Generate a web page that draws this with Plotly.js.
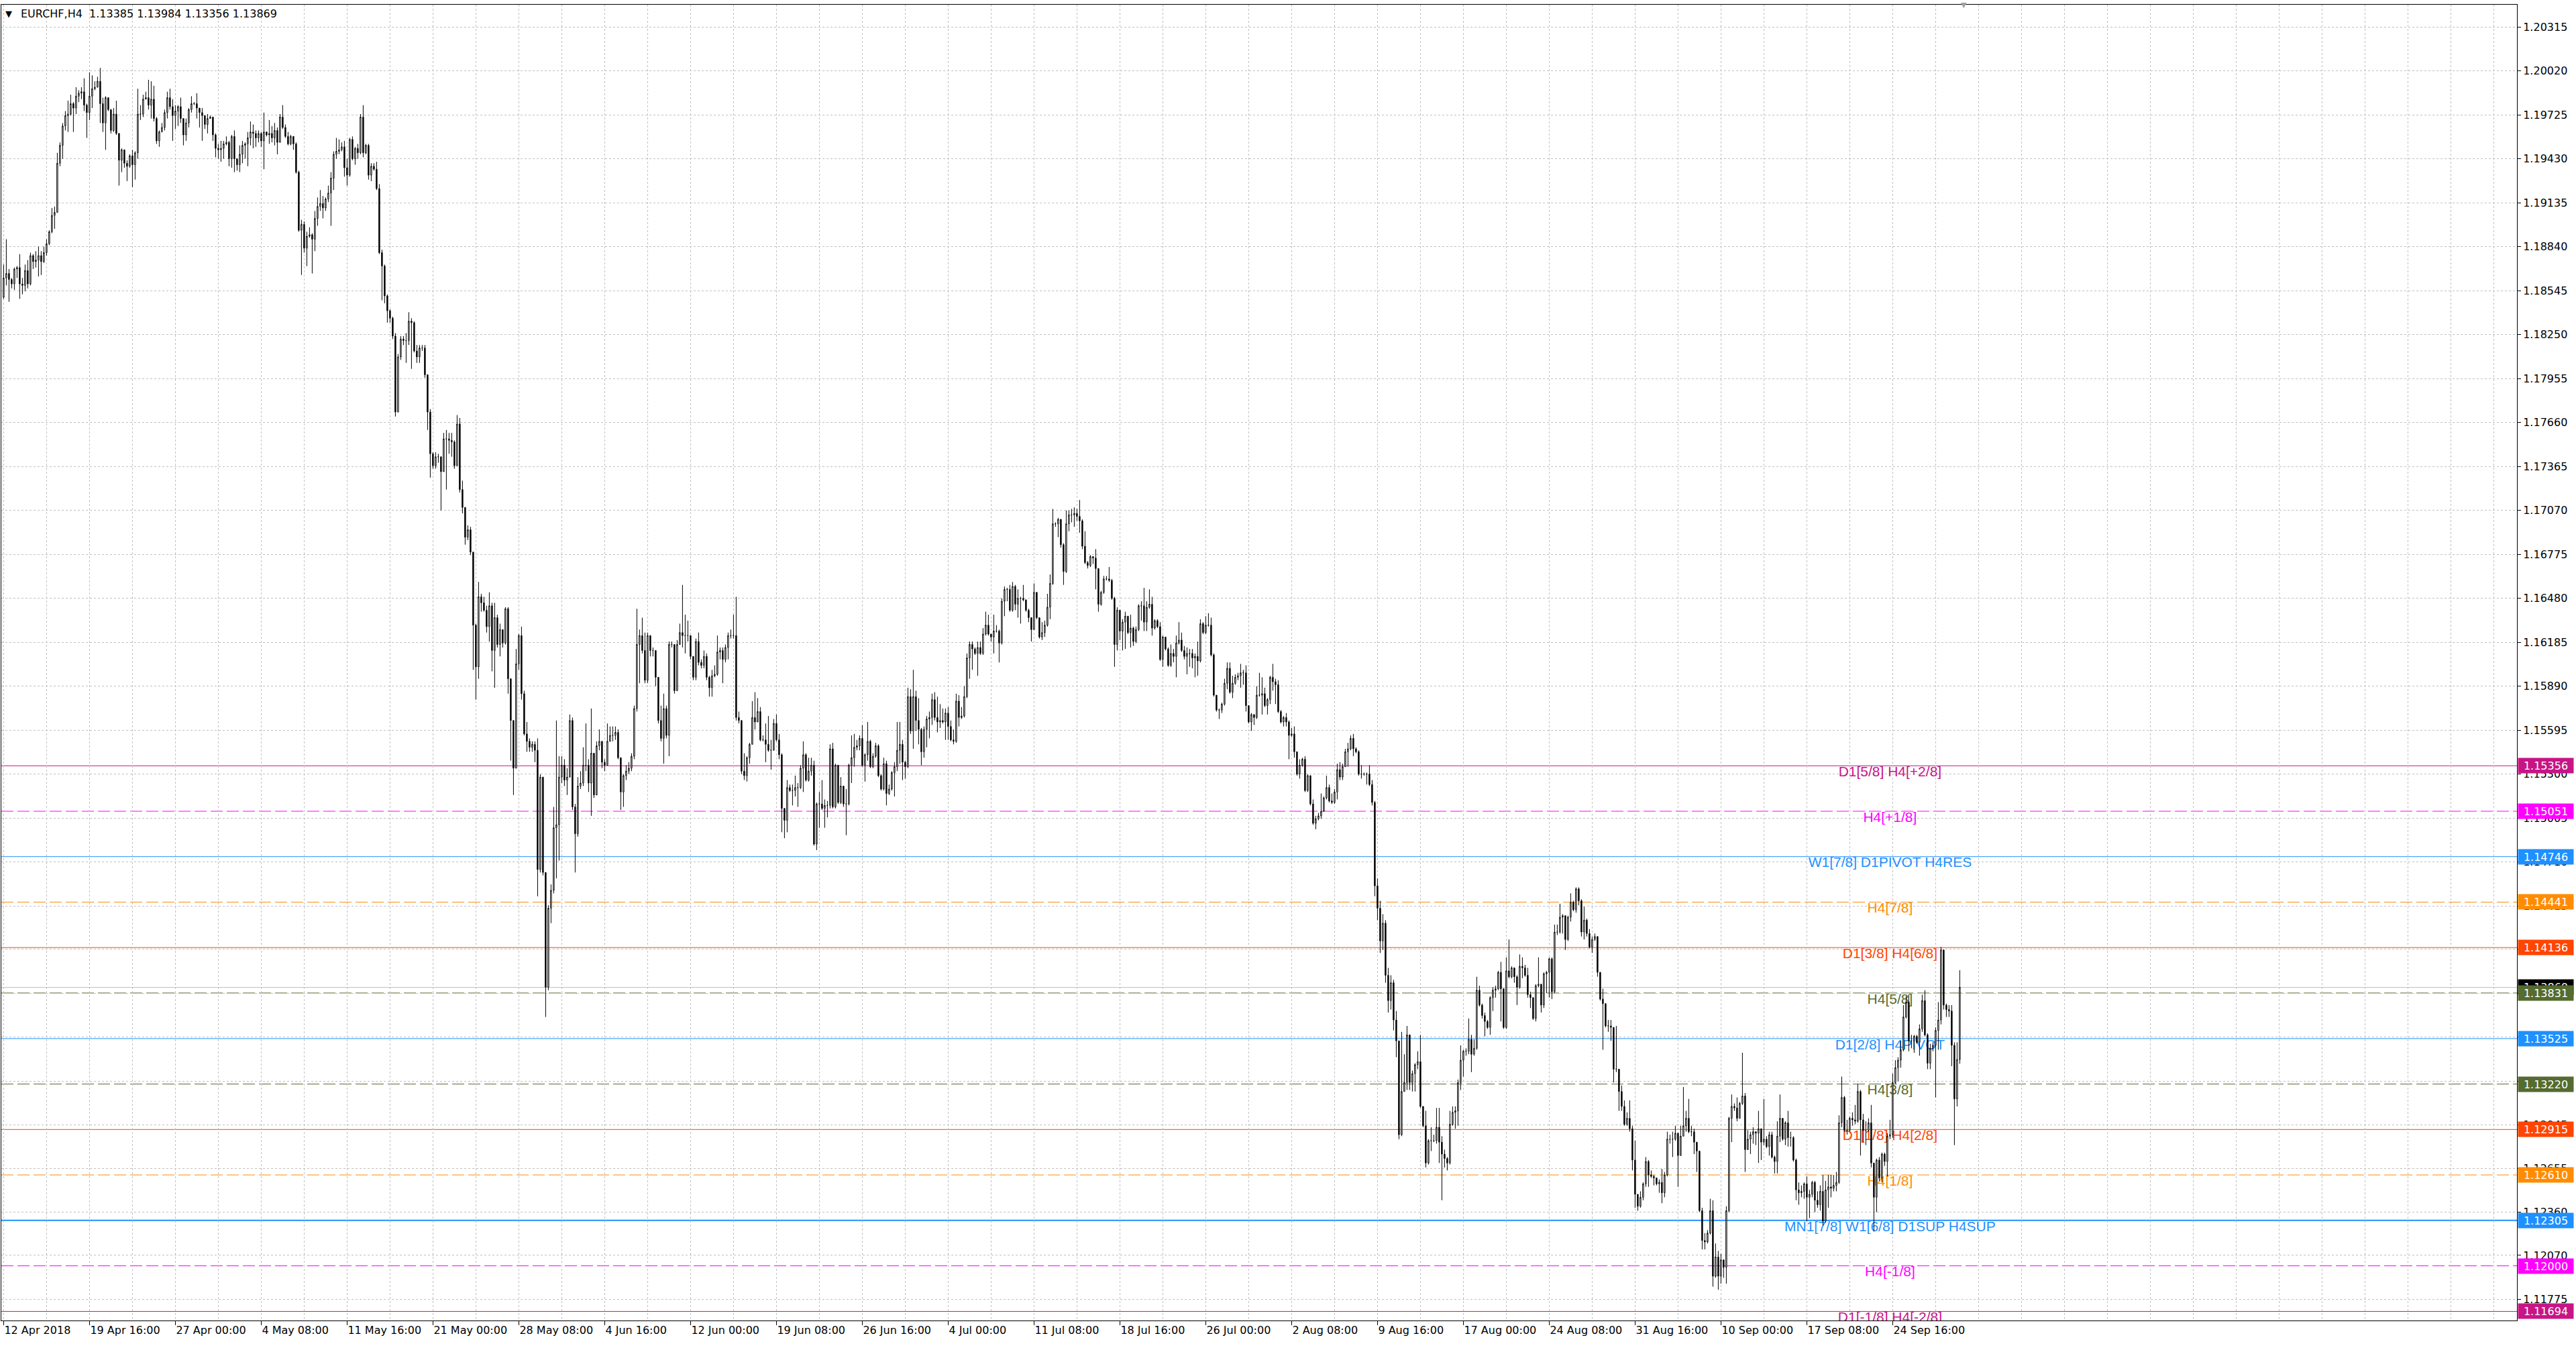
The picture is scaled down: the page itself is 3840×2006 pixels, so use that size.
<!DOCTYPE html>
<html>
<head>
<meta charset="utf-8">
<script src="https://cdn.plot.ly/plotly-3.0.1.min.js"></script>
<style>
html,body{margin:0;padding:0;background:#ffffff;}
#chart{width:3840px;height:2006px;}
</style>
</head>
<body>
<div id="chart"></div>
<script>
// ---------------- DATA (EURCHF, H4) ----------------
const symbol = "EURCHF,H4";
const firstOpen = 1.1850;

const closes = [
1.1863,1.1866,1.1862,1.1859,1.1869,1.1870,1.1859,1.1858,1.1868,1.1859,
1.1878,1.1874,1.1875,1.1878,1.1874,1.1880,1.1886,1.1894,1.1905,1.1907,
1.1940,1.1952,1.1965,1.1972,1.1973,1.1980,1.1977,1.1985,1.1987,1.1988,
1.1979,1.1974,1.1985,1.1990,1.1991,1.1995,1.1980,1.1967,1.1984,1.1976,
1.1962,1.1973,1.1960,1.1942,1.1949,1.1940,1.1938,1.1945,1.1939,1.1947,
1.1973,1.1973,1.1983,1.1984,1.1979,1.1983,1.1970,1.1955,1.1961,1.1964,
1.1974,1.1984,1.1978,1.1972,1.1975,1.1978,1.1970,1.1959,1.1967,1.1976,
1.1980,1.1980,1.1977,1.1974,1.1972,1.1966,1.1970,1.1971,1.1959,1.1950,
1.1949,1.1950,1.1953,1.1954,1.1943,1.1958,1.1943,1.1939,1.1946,1.1952,
1.1953,1.1957,1.1961,1.1960,1.1957,1.1960,1.1955,1.1961,1.1959,1.1960,
1.1957,1.1962,1.1954,1.1971,1.1964,1.1958,1.1953,1.1958,1.1953,1.1934,
1.1895,1.1899,1.1883,1.1891,1.1892,1.1889,1.1903,1.1911,1.1913,1.1910,
1.1916,1.1920,1.1930,1.1946,1.1948,1.1949,1.1951,1.1937,1.1932,1.1956,
1.1943,1.1950,1.1947,1.1971,1.1947,1.1952,1.1932,1.1938,1.1936,1.1923,
1.1880,1.1871,1.1851,1.1841,1.1836,1.1824,1.1773,1.1810,1.1822,1.1821,
1.1821,1.1834,1.1833,1.1814,1.1810,1.1816,1.1816,1.1798,1.1773,1.1745,
1.1737,1.1743,1.1743,1.1733,1.1755,1.1755,1.1754,1.1753,1.1737,1.1765,
1.1721,1.1709,1.1689,1.1694,1.1679,1.1630,1.1602,1.1649,1.1645,1.1640,
1.1629,1.1643,1.1613,1.1635,1.1617,1.1627,1.1618,1.1641,1.1594,1.1566,
1.1534,1.1604,1.1623,1.1584,1.1557,1.1552,1.1548,1.1550,1.1546,1.1466,
1.1528,1.1464,1.1387,1.1440,1.1452,1.1494,1.1496,1.1528,1.1536,1.1526,
1.1528,1.1566,1.1508,1.1490,1.1522,1.1524,1.1536,1.1536,1.1524,1.1544,
1.1516,1.1549,1.1552,1.1538,1.1536,1.1552,1.1556,1.1556,1.1558,1.1541,
1.1518,1.1529,1.1532,1.1534,1.1542,1.1574,1.1617,1.1623,1.1613,1.1593,
1.1623,1.1613,1.1613,1.1595,1.1566,1.1554,1.1574,1.1556,1.1617,1.1617,
1.1586,1.1617,1.1625,1.1623,1.1623,1.1623,1.1609,1.1595,1.1619,1.1605,
1.1603,1.1609,1.1595,1.1588,1.1596,1.1597,1.1612,1.1613,1.1607,1.1615,
1.1623,1.1623,1.1623,1.1568,1.1566,1.1532,1.1529,1.1541,1.1550,1.1568,
1.1565,1.1572,1.1553,1.1553,1.1550,1.1546,1.1546,1.1564,1.1553,1.1543,
1.1507,1.1499,1.1521,1.1519,1.1519,1.1521,1.1521,1.1534,1.1543,1.1526,
1.1532,1.1536,1.1483,1.1510,1.1510,1.1507,1.1509,1.1509,1.1547,1.1508,
1.1536,1.1511,1.1522,1.1510,1.1510,1.1536,1.1541,1.1548,1.1549,1.1554,
1.1536,1.1543,1.1552,1.1535,1.1542,1.1549,1.1529,1.1520,1.1537,1.1517,
1.1520,1.1531,1.1535,1.1546,1.1550,1.1538,1.1535,1.1582,1.1559,1.1582,
1.1566,1.1560,1.1545,1.1560,1.1567,1.1568,1.1580,1.1568,1.1565,1.1566,
1.1565,1.1571,1.1562,1.1553,1.1552,1.1579,1.1568,1.1569,1.1582,1.1608,
1.1617,1.1614,1.1611,1.1615,1.1611,1.1624,1.1630,1.1624,1.1622,1.1626,
1.1626,1.1618,1.1646,1.1654,1.1654,1.1640,1.1656,1.1644,1.1648,1.1648,
1.1647,1.1640,1.1635,1.1627,1.1652,1.1635,1.1622,1.1625,1.1630,1.1642,
1.1658,1.1698,1.1698,1.1701,1.1684,1.1666,1.1698,1.1704,1.1704,1.1705,
1.1703,1.1700,1.1683,1.1672,1.1670,1.1676,1.1675,1.1668,1.1644,1.1652,
1.1661,1.1661,1.1660,1.1648,1.1617,1.1640,1.1626,1.1632,1.1636,1.1625,
1.1628,1.1619,1.1627,1.1643,1.1643,1.1632,1.1642,1.1644,1.1628,1.1633,
1.1629,1.1607,1.1622,1.1614,1.1603,1.1611,1.1609,1.1618,1.1620,1.1613,
1.1609,1.1611,1.1611,1.1608,1.1609,1.1606,1.1631,1.1625,1.1630,1.1630,
1.1610,1.1583,1.1573,1.1573,1.1577,1.1591,1.1601,1.1585,1.1591,1.1595,
1.1596,1.1598,1.1598,1.1576,1.1565,1.1570,1.1568,1.1583,1.1583,1.1584,
1.1576,1.1580,1.1595,1.1592,1.1590,1.1572,1.1565,1.1568,1.1565,1.1556,
1.1557,1.1545,1.1530,1.1536,1.1540,1.1519,1.1529,1.1510,1.1497,1.1500,
1.1502,1.1505,1.1514,1.1521,1.1512,1.1511,1.1518,1.1533,1.1528,1.1535,
1.1545,1.1547,1.1554,1.1547,1.1545,1.1530,1.1530,1.1530,1.1530,1.1523,
1.1511,1.1455,1.1440,1.1418,1.1430,1.1395,1.1378,1.1390,1.1365,1.1351,
1.1288,1.1317,1.1323,1.1355,1.1323,1.1329,1.1335,1.1337,1.1307,1.1294,
1.1269,1.1284,1.1284,1.1284,1.1293,1.1283,1.1275,1.1272,1.1269,1.1295,
1.1303,1.1304,1.1323,1.1338,1.1344,1.1344,1.1352,1.1342,1.1346,1.1385,
1.1375,1.1368,1.1364,1.1360,1.1380,1.1385,1.1386,1.1397,1.1386,1.1360,
1.1398,1.1394,1.1400,1.1394,1.1387,1.1401,1.1400,1.1395,1.1382,1.1380,
1.1366,1.1388,1.1389,1.1375,1.1396,1.1397,1.1406,1.1384,1.1424,1.1424,
1.1434,1.1435,1.1419,1.1434,1.1444,1.1439,1.1453,1.1445,1.1424,1.1432,
1.1423,1.1414,1.1419,1.1421,1.1397,1.1379,1.1376,1.1361,1.1361,1.1360,
1.1332,1.1332,1.1317,1.1307,1.1295,1.1299,1.1292,1.1271,1.1248,1.1240,
1.1246,1.1255,1.1270,1.1261,1.1260,1.1259,1.1255,1.1256,1.1249,1.1261,
1.1285,1.1285,1.1285,1.1289,1.1274,1.1287,1.1294,1.1299,1.1290,1.1290,
1.1283,1.1277,1.1237,1.1217,1.1216,1.1222,1.1237,1.1193,1.1206,1.1193,
1.1204,1.1199,1.1237,1.1299,1.1307,1.1306,1.1299,1.1309,1.1314,1.1278,
1.1285,1.1288,1.1290,1.1289,1.1292,1.1283,1.1285,1.1280,1.1288,1.1273,
1.1270,1.1287,1.1299,1.1285,1.1296,1.1286,1.1286,1.1271,1.1251,1.1249,
1.1250,1.1255,1.1246,1.1248,1.1256,1.1244,1.1241,1.1250,1.1230,1.1251,
1.1253,1.1252,1.1254,1.1256,1.1296,1.1313,1.1291,1.1291,1.1299,1.1298,
1.1297,1.1317,1.1298,1.1291,1.1291,1.1296,1.1269,1.1246,1.1271,1.1259,
1.1275,1.1270,1.1287,1.1288,1.1323,1.1333,1.1338,1.1345,1.1367,1.1377,
1.1351,1.1351,1.1354,1.1350,1.1359,1.1378,1.1355,1.1336,1.1346,1.1348,
1.1358,1.1365,1.1412,1.1375,1.1372,1.1371,1.1348,1.1312,1.13385,1.13869
];

const highs = [
1.1872,1.1889,1.1869,1.1863,1.1870,1.1871,1.1879,1.1863,1.1872,1.1875,
1.1880,1.1879,1.1881,1.1884,1.1881,1.1884,1.1889,1.1895,1.1910,1.1911,
1.1947,1.1954,1.1967,1.1975,1.1982,1.1986,1.1981,1.1991,1.1989,1.1991,
1.1997,1.1980,1.2001,1.1999,1.1995,1.1998,1.2004,1.1984,1.1985,1.1984,
1.1976,1.1977,1.1982,1.1960,1.1950,1.1949,1.1942,1.1946,1.1949,1.1948,
1.1990,1.1979,1.1986,1.1988,1.1996,1.1995,1.1992,1.1971,1.1962,1.1967,
1.1976,1.1988,1.1990,1.1983,1.1979,1.1979,1.1984,1.1970,1.1970,1.1977,
1.1985,1.1981,1.1987,1.1977,1.1977,1.1972,1.1973,1.1972,1.1971,1.1960,
1.1953,1.1955,1.1955,1.1958,1.1955,1.1959,1.1962,1.1943,1.1952,1.1955,
1.1954,1.1961,1.1968,1.1966,1.1962,1.1962,1.1961,1.1974,1.1961,1.1969,
1.1965,1.1967,1.1964,1.1973,1.1979,1.1966,1.1961,1.1959,1.1958,1.1954,
1.1935,1.1902,1.1901,1.1894,1.1897,1.1893,1.1908,1.1917,1.1922,1.1918,
1.1917,1.1925,1.1934,1.1948,1.1957,1.1956,1.1954,1.1955,1.1943,1.1957,
1.1958,1.1951,1.1953,1.1973,1.1979,1.1953,1.1953,1.1940,1.1940,1.1941,
1.1926,1.1882,1.1872,1.1852,1.1842,1.1837,1.1826,1.1812,1.1824,1.1824,
1.1826,1.1840,1.1836,1.1834,1.1818,1.1818,1.1818,1.1818,1.1798,1.1775,
1.1746,1.1746,1.1745,1.1743,1.1759,1.1761,1.1759,1.1759,1.1754,1.1771,
1.1769,1.1727,1.1709,1.1697,1.1696,1.1679,1.1631,1.1659,1.1651,1.1649,
1.1643,1.1652,1.1645,1.1645,1.1637,1.1631,1.1627,1.1642,1.1642,1.1594,
1.1566,1.1614,1.1624,1.1629,1.1586,1.1565,1.1554,1.1552,1.1552,1.1554,
1.1530,1.1528,1.1456,1.1442,1.1456,1.1508,1.1566,1.1542,1.1542,1.1540,
1.1534,1.1570,1.1568,1.1510,1.1528,1.1532,1.1548,1.1564,1.1540,1.1574,
1.1544,1.1552,1.1560,1.1552,1.1540,1.1564,1.1562,1.1562,1.1562,1.1560,
1.1541,1.1530,1.1536,1.1538,1.1544,1.1576,1.1641,1.1627,1.1635,1.1625,
1.1625,1.1621,1.1615,1.1613,1.1595,1.1576,1.1584,1.1576,1.1619,1.1619,
1.1617,1.1620,1.1631,1.1657,1.1637,1.1633,1.1621,1.1609,1.1621,1.1625,
1.1607,1.1613,1.1611,1.1596,1.1600,1.1603,1.1623,1.1615,1.1615,1.1617,
1.1625,1.1627,1.1637,1.1649,1.1572,1.1566,1.1544,1.1542,1.1551,1.1579,
1.1585,1.1581,1.1575,1.1556,1.1564,1.1569,1.1553,1.1567,1.1570,1.1557,
1.1544,1.1507,1.1526,1.1523,1.1523,1.1529,1.1524,1.1536,1.1552,1.1544,
1.1541,1.1541,1.1539,1.1511,1.1518,1.1526,1.1513,1.1512,1.1550,1.1551,
1.1537,1.1528,1.1528,1.1522,1.1520,1.1537,1.1556,1.1557,1.1553,1.1556,
1.1563,1.1544,1.1565,1.1553,1.1544,1.1551,1.1550,1.1530,1.1541,1.1539,
1.1523,1.1532,1.1538,1.1565,1.1565,1.1553,1.1539,1.1588,1.1587,1.1600,
1.1586,1.1581,1.1561,1.1562,1.1569,1.1572,1.1584,1.1585,1.1582,1.1577,
1.1574,1.1574,1.1575,1.1566,1.1560,1.1584,1.1583,1.1575,1.1589,1.1611,
1.1619,1.1619,1.1615,1.1619,1.1619,1.1628,1.1639,1.1637,1.1624,1.1637,
1.1630,1.1627,1.1648,1.1656,1.1655,1.1657,1.1659,1.1657,1.1654,1.1649,
1.1657,1.1647,1.1641,1.1635,1.1658,1.1652,1.1635,1.1632,1.1633,1.1651,
1.1664,1.1708,1.1699,1.1702,1.1701,1.1685,1.1707,1.1707,1.1708,1.1709,
1.1708,1.1714,1.1701,1.1693,1.1673,1.1677,1.1676,1.1681,1.1668,1.1653,
1.1663,1.1663,1.1669,1.1661,1.1649,1.1642,1.1639,1.1634,1.1639,1.1636,
1.1637,1.1629,1.1629,1.1644,1.1646,1.1655,1.1646,1.1654,1.1649,1.1634,
1.1634,1.1632,1.1623,1.1620,1.1615,1.1617,1.1614,1.1623,1.1632,1.1625,
1.1616,1.1615,1.1614,1.1614,1.1611,1.1619,1.1634,1.1632,1.1636,1.1638,
1.1635,1.1611,1.1583,1.1574,1.1578,1.1594,1.1605,1.1605,1.1596,1.1597,
1.1598,1.1604,1.1600,1.1603,1.1576,1.1571,1.1570,1.1589,1.1598,1.1595,
1.1588,1.1581,1.1596,1.1604,1.1594,1.1593,1.1573,1.1569,1.1571,1.1566,
1.1561,1.1562,1.1545,1.1540,1.1541,1.1542,1.1530,1.1529,1.1513,1.1502,
1.1504,1.1517,1.1515,1.1529,1.1523,1.1517,1.1520,1.1537,1.1538,1.1537,
1.1547,1.1551,1.1556,1.1557,1.1548,1.1546,1.1536,1.1531,1.1531,1.1536,
1.1526,1.1512,1.1460,1.1445,1.1436,1.1432,1.1400,1.1395,1.1392,1.1371,
1.1345,1.1357,1.1342,1.1361,1.1355,1.1331,1.1336,1.1344,1.1355,1.1307,
1.1304,1.1285,1.1293,1.1288,1.1306,1.1306,1.1287,1.1278,1.1273,1.1304,
1.1307,1.1307,1.1325,1.1348,1.1345,1.1346,1.1366,1.1355,1.1352,1.1394,
1.1388,1.1376,1.1370,1.1365,1.1381,1.1387,1.1388,1.1398,1.1404,1.1386,
1.1407,1.1419,1.1401,1.1400,1.1395,1.1409,1.1407,1.1402,1.1400,1.1384,
1.1380,1.1389,1.1407,1.1389,1.1397,1.1398,1.1407,1.1407,1.1429,1.1429,
1.1443,1.1436,1.1435,1.1435,1.1450,1.1445,1.1454,1.1454,1.1446,1.1441,
1.1433,1.1426,1.1421,1.1423,1.1421,1.1397,1.1386,1.1376,1.1365,1.1365,
1.1360,1.1361,1.1332,1.1321,1.1311,1.1303,1.1311,1.1294,1.1284,1.1248,
1.1250,1.1256,1.1273,1.1271,1.1264,1.1261,1.1258,1.1258,1.1265,1.1263,
1.1290,1.1288,1.1290,1.1294,1.1289,1.1294,1.1320,1.1304,1.1312,1.1294,
1.1292,1.1283,1.1277,1.1239,1.1222,1.1224,1.1245,1.1244,1.1215,1.1210,
1.1208,1.1204,1.1240,1.1300,1.1315,1.1309,1.1313,1.1310,1.1343,1.1316,
1.1291,1.1290,1.1293,1.1290,1.1304,1.1292,1.1312,1.1287,1.1290,1.1290,
1.1274,1.1297,1.1315,1.1299,1.1297,1.1304,1.1290,1.1287,1.1272,1.1256,
1.1254,1.1256,1.1260,1.1251,1.1257,1.1257,1.1250,1.1254,1.1261,1.1257,
1.1261,1.1261,1.1261,1.1263,1.1301,1.1327,1.1314,1.1298,1.1300,1.1303,
1.1308,1.1322,1.1318,1.1302,1.1297,1.1299,1.1308,1.1269,1.1272,1.1273,
1.1276,1.1276,1.1289,1.1298,1.1329,1.1338,1.1340,1.1351,1.1375,1.1381,
1.1382,1.1355,1.1355,1.1355,1.1362,1.1382,1.1385,1.1356,1.1349,1.1350,
1.1360,1.1377,1.1414,1.1412,1.1376,1.1375,1.1375,1.1350,1.1350,1.13984
];

const lows = [
1.1849,1.1858,1.1847,1.1856,1.1855,1.1863,1.1849,1.1852,1.1854,1.1856,
1.1858,1.1869,1.1870,1.1864,1.1865,1.1873,1.1878,1.1885,1.1893,1.1896,
1.1907,1.1938,1.1943,1.1962,1.1961,1.1972,1.1961,1.1973,1.1981,1.1983,
1.1975,1.1957,1.1969,1.1977,1.1989,1.1993,1.1967,1.1961,1.1949,1.1975,
1.1960,1.1961,1.1959,1.1925,1.1934,1.1937,1.1928,1.1937,1.1924,1.1929,
1.1943,1.1969,1.1971,1.1983,1.1976,1.1970,1.1968,1.1953,1.1951,1.1961,
1.1962,1.1970,1.1976,1.1955,1.1963,1.1965,1.1967,1.1952,1.1955,1.1964,
1.1974,1.1979,1.1970,1.1964,1.1955,1.1963,1.1960,1.1970,1.1955,1.1944,
1.1943,1.1941,1.1943,1.1952,1.1938,1.1937,1.1934,1.1935,1.1934,1.1940,
1.1943,1.1938,1.1952,1.1950,1.1951,1.1954,1.1951,1.1936,1.1958,1.1953,
1.1954,1.1952,1.1946,1.1954,1.1963,1.1957,1.1952,1.1952,1.1949,1.1933,
1.1894,1.1865,1.1880,1.1871,1.1890,1.1866,1.1881,1.1898,1.1908,1.1903,
1.1908,1.1914,1.1898,1.1922,1.1943,1.1946,1.1948,1.1931,1.1925,1.1931,
1.1942,1.1939,1.1943,1.1946,1.1944,1.1946,1.1929,1.1928,1.1935,1.1922,
1.1879,1.1848,1.1846,1.1833,1.1833,1.1822,1.1770,1.1773,1.1808,1.1818,
1.1806,1.1818,1.1802,1.1813,1.1806,1.1806,1.1814,1.1796,1.1761,1.1729,
1.1735,1.1735,1.1739,1.1707,1.1733,1.1721,1.1745,1.1743,1.1735,1.1737,
1.1719,1.1705,1.1684,1.1687,1.1677,1.1600,1.1580,1.1594,1.1639,1.1639,
1.1625,1.1619,1.1599,1.1588,1.1615,1.1609,1.1615,1.1617,1.1584,1.1539,
1.1516,1.1534,1.1600,1.1580,1.1556,1.1545,1.1545,1.1545,1.1538,1.1448,
1.1464,1.1462,1.1367,1.1385,1.1430,1.1450,1.1460,1.1472,1.1524,1.1522,
1.1516,1.1528,1.1506,1.1464,1.1488,1.1520,1.1522,1.1532,1.1518,1.1502,
1.1514,1.1516,1.1546,1.1534,1.1532,1.1536,1.1552,1.1552,1.1553,1.1540,
1.1506,1.1508,1.1526,1.1530,1.1532,1.1540,1.1572,1.1591,1.1611,1.1591,
1.1591,1.1609,1.1609,1.1589,1.1564,1.1552,1.1537,1.1554,1.1542,1.1615,
1.1584,1.1588,1.1617,1.1615,1.1611,1.1619,1.1607,1.1593,1.1593,1.1603,
1.1601,1.1601,1.1593,1.1582,1.1582,1.1595,1.1596,1.1607,1.1591,1.1605,
1.1607,1.1621,1.1621,1.1566,1.1564,1.1530,1.1526,1.1525,1.1537,1.1550,
1.1560,1.1565,1.1552,1.1552,1.1538,1.1545,1.1533,1.1546,1.1552,1.1540,
1.1491,1.1487,1.1491,1.1518,1.1509,1.1515,1.1508,1.1520,1.1518,1.1525,
1.1525,1.1529,1.1482,1.1479,1.1494,1.1506,1.1494,1.1501,1.1507,1.1507,
1.1507,1.1510,1.1510,1.1508,1.1489,1.1509,1.1524,1.1535,1.1546,1.1546,
1.1535,1.1525,1.1539,1.1534,1.1534,1.1541,1.1528,1.1519,1.1519,1.1509,
1.1516,1.1519,1.1515,1.1532,1.1537,1.1526,1.1527,1.1534,1.1557,1.1547,
1.1559,1.1550,1.1536,1.1541,1.1548,1.1554,1.1563,1.1566,1.1558,1.1561,
1.1564,1.1553,1.1553,1.1552,1.1550,1.1551,1.1562,1.1567,1.1568,1.1581,
1.1594,1.1600,1.1610,1.1596,1.1610,1.1610,1.1623,1.1623,1.1619,1.1611,
1.1625,1.1605,1.1617,1.1636,1.1646,1.1639,1.1639,1.1640,1.1635,1.1631,
1.1646,1.1639,1.1632,1.1619,1.1627,1.1634,1.1621,1.1620,1.1622,1.1629,
1.1634,1.1657,1.1696,1.1689,1.1682,1.1657,1.1665,1.1693,1.1699,1.1696,
1.1700,1.1692,1.1681,1.1671,1.1668,1.1669,1.1671,1.1654,1.1639,1.1643,
1.1651,1.1660,1.1659,1.1647,1.1602,1.1613,1.1620,1.1613,1.1614,1.1624,
1.1615,1.1616,1.1618,1.1626,1.1633,1.1626,1.1626,1.1641,1.1623,1.1627,
1.1628,1.1606,1.1602,1.1613,1.1602,1.1602,1.1605,1.1595,1.1617,1.1612,
1.1607,1.1597,1.1602,1.1601,1.1595,1.1596,1.1605,1.1624,1.1624,1.1629,
1.1609,1.1582,1.1572,1.1567,1.1571,1.1576,1.1587,1.1584,1.1581,1.1590,
1.1593,1.1588,1.1590,1.1572,1.1564,1.1559,1.1563,1.1567,1.1582,1.1570,
1.1575,1.1570,1.1577,1.1586,1.1577,1.1571,1.1564,1.1562,1.1562,1.1540,
1.1555,1.1541,1.1529,1.1527,1.1535,1.1518,1.1518,1.1509,1.1496,1.1493,
1.1499,1.1500,1.1505,1.1513,1.1511,1.1510,1.1510,1.1513,1.1526,1.1526,
1.1535,1.1535,1.1546,1.1542,1.1544,1.1529,1.1527,1.1529,1.1523,1.1522,
1.1509,1.1448,1.1432,1.1410,1.1412,1.1390,1.1370,1.1372,1.1358,1.1340,
1.1285,1.1287,1.1317,1.1318,1.1318,1.1317,1.1317,1.1332,1.1306,1.1293,
1.1266,1.1268,1.1277,1.1283,1.1282,1.1269,1.1244,1.1266,1.1264,1.1268,
1.1294,1.1292,1.1294,1.1318,1.1327,1.1341,1.1342,1.1330,1.1341,1.1345,
1.1374,1.1366,1.1354,1.1359,1.1355,1.1371,1.1380,1.1385,1.1364,1.1359,
1.1359,1.1393,1.1393,1.1390,1.1375,1.1386,1.1393,1.1394,1.1380,1.1373,
1.1365,1.1364,1.1387,1.1370,1.1373,1.1383,1.1380,1.1379,1.1383,1.1422,
1.1423,1.1423,1.1412,1.1418,1.1431,1.1438,1.1437,1.1442,1.1421,1.1419,
1.1421,1.1413,1.1410,1.1418,1.1394,1.1378,1.1345,1.1360,1.1357,1.1351,
1.1323,1.1330,1.1304,1.1304,1.1294,1.1294,1.1290,1.1264,1.1239,1.1237,
1.1239,1.1244,1.1253,1.1253,1.1259,1.1254,1.1254,1.1249,1.1242,1.1246,
1.1260,1.1282,1.1273,1.1284,1.1253,1.1274,1.1287,1.1290,1.1289,1.1287,
1.1275,1.1263,1.1236,1.1211,1.1211,1.1215,1.1221,1.1186,1.1192,1.1184,
1.1188,1.1192,1.1188,1.1236,1.1283,1.1304,1.1297,1.1304,1.1308,1.1263,
1.1278,1.1275,1.1282,1.1281,1.1269,1.1271,1.1281,1.1279,1.1274,1.1272,
1.1262,1.1262,1.1283,1.1284,1.1281,1.1280,1.1280,1.1270,1.1244,1.1241,
1.1246,1.1245,1.1230,1.1232,1.1246,1.1236,1.1239,1.1237,1.1227,1.1229,
1.1239,1.1246,1.1250,1.1250,1.1255,1.1293,1.1290,1.1288,1.1290,1.1294,
1.1295,1.1296,1.1274,1.1283,1.1281,1.1290,1.1266,1.1223,1.1236,1.1257,
1.1256,1.1267,1.1260,1.1285,1.1286,1.1322,1.1324,1.1333,1.1344,1.1366,
1.1344,1.1346,1.1343,1.1349,1.1341,1.1357,1.1354,1.1332,1.1332,1.1344,
1.1313,1.1345,1.1362,1.1372,1.1367,1.1367,1.1334,1.1281,1.1307,1.13356
];

// time-axis labels (one every 32 H4 bars)
const xLabels = ["12 Apr 2018","19 Apr 16:00","27 Apr 00:00","4 May 08:00","11 May 16:00",
  "21 May 00:00","28 May 08:00","4 Jun 16:00","12 Jun 00:00","19 Jun 08:00","26 Jun 16:00",
  "4 Jul 00:00","11 Jul 08:00","18 Jul 16:00","26 Jul 00:00","2 Aug 08:00","9 Aug 16:00",
  "17 Aug 00:00","24 Aug 08:00","31 Aug 16:00","10 Sep 00:00","17 Sep 08:00","24 Sep 16:00"];

// price-axis tick labels
const yTicks = [1.20315,1.20020,1.19725,1.19430,1.19135,1.18840,1.18545,1.18250,1.17955,
  1.17660,1.17365,1.17070,1.16775,1.16480,1.16185,1.15890,1.15595,1.15300,1.15005,1.14710,
  1.14415,1.14125,1.13830,1.13535,1.13240,1.12945,1.12655,1.12360,1.12070,1.11775];

// Murrey / pivot levels
const levelValues = [1.15356,1.15051,1.14746,1.14441,1.14136,1.13831,1.13525,1.13220,1.12915,1.12610,1.12305,1.12000,1.11694];
const levelNames = ["D1[5/8] H4[+2/8]","H4[+1/8]","W1[7/8] D1PIVOT H4RES","H4[7/8]","D1[3/8] H4[6/8]",
  "H4[5/8]","D1[2/8] H4PIVOT","H4[3/8]","D1[1/8] H4[2/8]","H4[1/8]",
  "MN1[7/8] W1[6/8] D1SUP H4SUP","H4[-1/8]","D1[-1/8] H4[-2/8]"];
const levelColors = ["#C71585","#FF00FF","#1E90FF","#FF8C00","#FF4500","#556B2F","#1E90FF",
  "#556B2F","#FF4500","#FF8C00","#1E90FF","#FF00FF","#C71585"];
const levelDash = ["solid","dash","solid","dash","solid","dash","solid","dash","solid","dash","solid","dash","solid"];
const levelWidth = [1,1,1,1,1,1,1,1,1,1,2,1,1];

// ---------------- BUILD ----------------
const N = closes.length;
const bars = closes.map((_, i) => i);
// H4 FX bars open at the previous bar's close
const opens = [firstOpen].concat(closes.slice(0, N - 1));
const hi = highs.map((h, i) => Math.max(h, opens[i], closes[i]));
const lo = lows.map((l, i) => Math.min(l, opens[i], closes[i]));
const bid = closes[N - 1];

const BAR_PER_LABEL = 32;
const xTickBars = xLabels.map((_, k) => k * BAR_PER_LABEL);
const minorBars = [];
for (let b = 16; b <= 928; b += 16) { if (xTickBars.indexOf(b) < 0) minorBars.push(b); }

const yRange = [1.11633, 1.20464];
const xRange = [-0.85, 936.65];
const labelBar = 703;

const GRID = '#C0C0C0';
const tickFont = {family: 'DejaVu Sans, Verdana, sans-serif', size: 16, color: '#000000'};

const levelText = {
  type: 'scatter', mode: 'text', xaxis: 'x', yaxis: 'y',
  x: levelValues.map(() => labelBar), y: levelValues, text: levelNames,
  textposition: 'bottom center',
  textfont: {family: 'Liberation Sans, Arial, sans-serif', size: 21, color: levelColors},
  hoverinfo: 'skip', cliponaxis: true, showlegend: false
};

const candles = {
  type: 'candlestick', xaxis: 'x', yaxis: 'y2',
  x: bars, open: opens, high: hi, low: lo, close: closes,
  increasing: {line: {color: '#000000', width: 1}, fillcolor: '#FFFFFF'},
  decreasing: {line: {color: '#000000', width: 1}, fillcolor: '#000000'},
  whiskerwidth: 0, hoverinfo: 'skip', showlegend: false
};

const shapes = levelValues.map((v, k) => ({
  type: 'line', xref: 'paper', x0: 0, x1: 1, yref: 'y', y0: v, y1: v, layer: 'between',
  line: {color: levelColors[k], width: levelWidth[k], dash: levelDash[k] === 'dash' ? '18px,6px' : 'solid'}
}));
shapes.push({type: 'line', xref: 'paper', x0: 0, x1: 1, yref: 'y', y0: bid, y1: bid, layer: 'between',
  line: {color: '#C0C0C0', width: 1}});

const annotations = [];
// header
const hdr = [opens[N - 1], hi[N - 1], lo[N - 1], closes[N - 1]].map(v => v.toFixed(5)).join(' ');
annotations.push({xref: 'paper', yref: 'paper', x: 0, y: 1, xanchor: 'left', yanchor: 'top',
  xshift: 4, yshift: -4, text: '\u25BC', showarrow: false,
  font: {family: 'DejaVu Sans', size: 13, color: '#000000'}});
annotations.push({xref: 'paper', yref: 'paper', x: 0, y: 1, xanchor: 'left', yanchor: 'top',
  xshift: 27, yshift: -2, text: symbol + '\u00A0\u00A0' + hdr, showarrow: false,
  font: {family: 'DejaVu Sans, Verdana, sans-serif', size: 16, color: '#000000'}});
// chart shift marker
annotations.push({xref: 'x', yref: 'paper', x: 730.4, y: 1, xanchor: 'center', yanchor: 'middle',
  text: '\u25BC', showarrow: false, font: {family: 'DejaVu Sans', size: 11, color: '#A0A0A0'}});
// price boxes on the right axis
function priceBox(v, color) {
  return {xref: 'paper', yref: 'y', x: 1, y: v, xanchor: 'left', yanchor: 'middle', xshift: 1,
    text: v.toFixed(5), showarrow: false, bgcolor: color, borderpad: 1, width: 80, height: 20,
    align: 'center', font: {family: 'DejaVu Sans, Verdana, sans-serif', size: 16, color: '#FFFFFF'}};
}
annotations.push(priceBox(bid, '#000000'));
levelValues.forEach((v, k) => annotations.push(priceBox(v, levelColors[k])));

const layout = {
  width: 3840, height: 2006,
  margin: {l: 2, r: 88, t: 7, b: 38, pad: 0},
  paper_bgcolor: '#FFFFFF', plot_bgcolor: '#FFFFFF',
  showlegend: false, hovermode: false, dragmode: false,
  boxgap: 0.5,
  font: tickFont,
  xaxis: {
    type: 'linear', range: xRange, fixedrange: true,
    tickmode: 'array', tickvals: xTickBars, ticktext: xLabels,
    ticks: 'outside', ticklen: 6, tickwidth: 1, tickcolor: '#000000',
    ticklabelposition: 'outside right', tickfont: tickFont,
    showgrid: true, gridcolor: GRID, gridwidth: 1, griddash: '3px,3px',
    minor: {tickmode: 'array', tickvals: minorBars, showgrid: true, gridcolor: GRID,
            gridwidth: 1, griddash: '3px,3px', ticks: ''},
    showline: true, mirror: true, linecolor: '#000000', linewidth: 1,
    zeroline: false, rangeslider: {visible: false}
  },
  yaxis: {
    range: yRange, fixedrange: true, side: 'right',
    tickmode: 'array', tickvals: yTicks, ticktext: yTicks.map(v => v.toFixed(5)),
    ticks: 'outside', ticklen: 5, tickwidth: 1, tickcolor: '#000000', tickfont: tickFont,
    showgrid: true, gridcolor: GRID, gridwidth: 1, griddash: '3px,3px',
    showline: true, mirror: true, linecolor: '#000000', linewidth: 1, zeroline: false
  },
  yaxis2: {overlaying: 'y', range: yRange, fixedrange: true, visible: false, showgrid: false, zeroline: false},
  shapes: shapes,
  annotations: annotations
};

Plotly.newPlot('chart', [levelText, candles], layout, {staticPlot: true, displayModeBar: false});
</script>
</body>
</html>
